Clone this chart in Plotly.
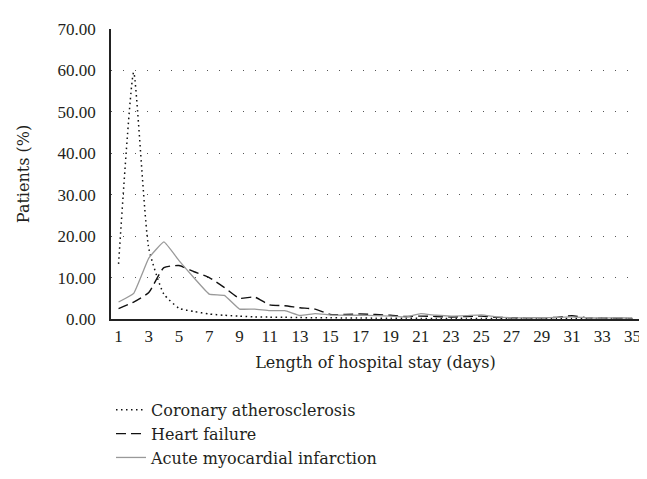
import plotly.graph_objects as go

days = list(range(1, 36))
coronary = [13.3, 59.5, 17.0, 6.0, 2.6, 1.8, 1.2, 0.9, 0.7, 0.5, 0.45, 0.4, 0.35, 0.3, 0.3, 0.25, 0.25, 0.2, 0.2, 0.2,
            0.15, 0.15, 0.15, 0.15, 0.1, 0.1, 0.1, 0.1, 0.1, 0.1, 0.1, 0.1, 0.1, 0.1, 0.1]
heart_failure = [2.5, 4.1, 6.4, 12.4, 12.9, 11.4, 10.0, 7.6, 5.0, 5.3, 3.4, 3.2, 2.7, 2.4, 1.1, 1.1, 1.2, 1.1, 0.9, 0.6,
                 0.7, 0.6, 0.5, 0.6, 0.7, 0.4, 0.3, 0.3, 0.3, 0.4, 0.8, 0.3, 0.2, 0.2, 0.1]
ami = [4.1, 6.2, 14.7, 18.6, 14.1, 9.9, 6.0, 5.7, 2.4, 2.4, 2.0, 2.0, 0.85, 1.3, 1.0, 0.9, 0.9, 0.8, 0.7, 0.5,
       1.3, 0.9, 0.7, 0.8, 1.0, 0.5, 0.3, 0.3, 0.3, 0.4, 0.5, 0.3, 0.2, 0.3, 0.2]
tick_days = list(range(1, 36, 2))
y_ticks = [0, 10, 20, 30, 40, 50, 60, 70]

TICK_FONT = dict(family="Liberation Serif", size=17, color="#231f20")
TEXT_FONT = dict(family="DejaVu Serif", size=16, color="#231f20")

fig = go.Figure()
fig.add_trace(go.Scatter(x=days, y=coronary, mode="lines", name="Coronary atherosclerosis",
                         line=dict(color="#111111", width=1.5, dash="1.5px,3.5px", shape="spline", smoothing=0.5)))
fig.add_trace(go.Scatter(x=days, y=heart_failure, mode="lines", name="Heart failure",
                         line=dict(color="#111111", width=1.4, dash="10px,5px", shape="spline", smoothing=0.5)))
fig.add_trace(go.Scatter(x=days, y=ami, mode="lines", name="Acute myocardial infarction",
                         line=dict(color="#999999", width=1.3, shape="spline", smoothing=0.3)))

fig.update_layout(
    width=647, height=479,
    margin=dict(l=103, r=15, t=13, b=161),
    paper_bgcolor="white", plot_bgcolor="white",
    font=TEXT_FONT,
    showlegend=True,
    legend=dict(x=0.0, y=-0.255, xanchor="left", yanchor="top",
                font=TEXT_FONT, bgcolor="rgba(0,0,0,0)", tracegroupgap=0, itemwidth=30),
)
fig.update_xaxes(
    range=[0.5, 35.5], tickmode="array", tickvals=tick_days, ticktext=[str(d) for d in tick_days],
    showgrid=False, zeroline=False, showline=True, linecolor="#222222", linewidth=1.5,
    ticks="", ticklabelstandoff=1,
    title=dict(text="Length of hospital stay (days)", font=TEXT_FONT, standoff=12),
    tickfont=TICK_FONT,
)
fig.update_yaxes(
    range=[0, 70], tickmode="array", tickvals=y_ticks, ticktext=[f"{v:.2f}" for v in y_ticks],
    showgrid=True, gridcolor="#555555", griddash="1px,11px", gridwidth=1,
    zeroline=False, showline=True, linecolor="#222222", linewidth=1.5,
    ticks="", ticklabelstandoff=10,
    title=dict(text="Patients (%)", font=TEXT_FONT, standoff=24),
    tickfont=TICK_FONT,
)

fig.write_html("out.html")
